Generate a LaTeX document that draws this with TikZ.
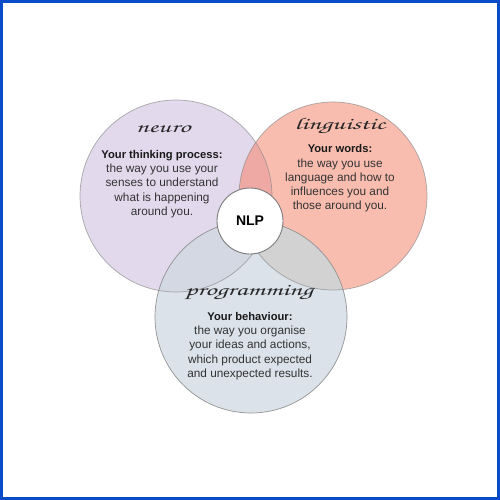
\documentclass[tikz,border=0pt]{standalone}
\usepackage{fontspec}
\setmainfont{Liberation Sans}
\newfontfamily\scriptfnt[FakeStretch=1.7]{texgyrechorus-mediumitalic.otf}
\definecolor{frameblue}{HTML}{0A4BC8}
\definecolor{neurofill}{HTML}{E2D9EC}
\definecolor{lingfill}{HTML}{F9BDB0}
\definecolor{progfill}{HTML}{DBE2EA}
\definecolor{nlovl}{HTML}{EEA9A4}
\definecolor{npovl}{HTML}{D3D8E3}
\definecolor{lpovl}{HTML}{D3D2D3}
\definecolor{edgegrey}{HTML}{8A8A8A}
\definecolor{bodytext}{HTML}{333333}
\newcommand{\hd}[1]{{\fontsize{11.2}{14.3}\selectfont\bfseries\color{black!90}#1}}
\tikzset{
  ring/.style={circle, draw=edgegrey, line width=0.7pt, inner sep=0pt},
  title/.style={font=\scriptfnt\fontsize{16.5}{16.5}\selectfont, text=black!85},
  body/.style={align=center, font=\fontsize{11.8}{14.3}\selectfont, text=bodytext, inner sep=0pt},
}
\begin{document}
\begin{tikzpicture}[x=1pt,y=-1pt]
\useasboundingbox (0,0) rectangle (500,500);
\fill[white] (0,0) rectangle (500,500);
\draw[frameblue, line width=3pt] (1.5,1.5) rectangle (498.5,498.5);
% circle fills
\fill[neurofill] (176,196) circle (96);
\fill[lingfill] (333,196) circle (94);
\fill[progfill] (251,317) circle (96);
% overlaps
\begin{scope}
  \clip (176,196) circle (96);
  \fill[nlovl] (333,196) circle (94);
  \fill[npovl] (251,317) circle (96);
\end{scope}
\begin{scope}
  \clip (333,196) circle (94);
  \fill[lpovl] (251,317) circle (96);
\end{scope}
% outlines
\node[ring, minimum size=192pt, draw opacity=0.7] (neuro) at (176,196) {};
\node[ring, minimum size=188pt, draw opacity=0.7] (ling) at (333,196) {};
\node[ring, minimum size=192pt, draw opacity=0.9] (prog) at (251,317) {};
\node[ring, fill=white, minimum size=66pt, line width=0.9pt, draw=edgegrey!90!black] (nlp) at (250,221) {\fontsize{14}{14}\selectfont\bfseries NLP};
% texts
\node[title] (tneuro) at (163,129) {neuro};
\node[body] (bneuro) at (162,184) {\hd{Your thinking process:}\\the way you use your\\senses to understand\\what is happening\\around you.};
\node[title] (tling) at (340,126) {linguistic};
\node[body] (bling) at (340,178.5) {\hd{Your words:}\\the way you use\\language and how to\\influences you and\\those around you.};
\node[title] (tprog) at (249,292) {programming};
\node[body] (bprog) at (250,346) {\hd{Your behaviour:}\\the way you organise\\your ideas and actions,\\which product expected\\and unexpected results.};
\end{tikzpicture}
\end{document}
